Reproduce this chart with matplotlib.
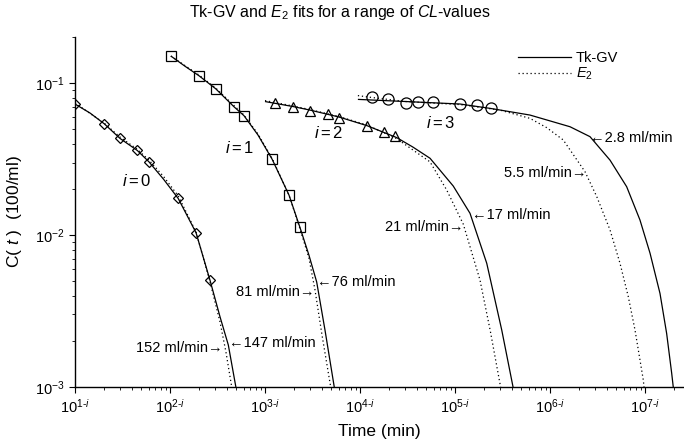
"""
Tk-GV and E2 fits for four drug-elimination curves, plotted on shifted log time axes.
Curve i is drawn at t * 10**i so the x tick labels read 10^(n-i).
"""

import numpy as np
import matplotlib
matplotlib.use("Agg")
import matplotlib.pyplot as plt
from matplotlib.lines import Line2D

plt.rcParams["font.family"] = ["Liberation Sans", "DejaVu Sans"]
plt.rcParams["mathtext.fontset"] = "custom"
plt.rcParams["mathtext.rm"] = "Liberation Sans"
plt.rcParams["mathtext.it"] = "Liberation Sans:italic"
plt.rcParams["mathtext.bf"] = "Liberation Sans:bold"

# ── measured samples (real time in min, C in 1/100 ml) ───────────────────────
T_OBS_0 = [10, 20.3, 29.8, 45.3, 60.1, 122, 188, 264]
C_OBS_0 = [0.0728, 0.054, 0.0433, 0.036, 0.0303, 0.0174, 0.01035, 0.00503]
T_OBS_1 = [10.2, 20.2, 30.3, 47.2, 60.1, 119, 179, 233]
C_OBS_1 = [0.1507, 0.1117, 0.0917, 0.0698, 0.061, 0.0315, 0.0183, 0.01125]
T_OBS_2 = [12.7, 19.9, 29.8, 46.4, 60.1, 118, 179, 233]
C_OBS_2 = [0.0741, 0.0698, 0.0658, 0.0625, 0.0586, 0.0524, 0.0474, 0.0448]
T_OBS_3 = [13.5, 19.9, 30.3, 40.5, 59.1, 113, 172, 238]
C_OBS_3 = [0.0805, 0.0781, 0.0742, 0.0754, 0.0754, 0.0728, 0.0716, 0.0682]

# ── Tk-GV fit curves ─────────────────────────────────────────────────────────
T_TK_0 = [10.0, 14.4, 20.3, 29.8, 45.3, 60.1, 85.5, 122, 188, 264, 336, 411, 504]
C_TK_0 = [0.0728, 0.0635, 0.054, 0.0432, 0.036, 0.0303, 0.0233, 0.0174, 0.01035,
          0.00503, 0.0029, 0.00189, 0.00093]
T_TK_1 = [10.2, 14.4, 20.2, 30.3, 47.2, 60.1, 84.4, 119, 179, 233, 290, 350, 428, 546]
C_TK_1 = [0.1507, 0.129, 0.1117, 0.0917, 0.0698, 0.061, 0.0455, 0.0315, 0.0183,
          0.01125, 0.00738, 0.00491, 0.00237, 0.00093]
T_TK_2 = [10.0, 19.9, 29.8, 60.1, 118, 243, 361, 546, 959, 1439, 2158, 3105, 4178]
C_TK_2 = [0.0756, 0.07, 0.0664, 0.0598, 0.0525, 0.0438, 0.0379, 0.032, 0.021,
          0.0139, 0.00652, 0.00237, 0.00093]
T_TK_3 = [9.5, 30.3, 113, 233, 615, 1624, 2636, 4285, 6412, 8851, 11300, 14380,
          16900, 19100, 20100]
C_TK_3 = [0.0781, 0.0756, 0.0728, 0.0682, 0.0616, 0.0516, 0.0444, 0.0311, 0.0208,
          0.01256, 0.00759, 0.00413, 0.00225, 0.00123, 0.00093]

# ── E2 fit curves ────────────────────────────────────────────────────────────
T_E2_0 = [10.0, 20.2, 29.8, 44.9, 60.1, 85.5, 122, 188, 264, 336, 388, 455]
C_E2_0 = [0.0739, 0.0546, 0.0441, 0.0368, 0.0311, 0.0243, 0.0181, 0.01047, 0.00491,
          0.00268, 0.0017, 0.00093]
T_E2_1 = [10.2, 20.2, 30.3, 47.2, 60.1, 84.4, 119, 179, 233, 290, 336, 398, 501]
C_E2_1 = [0.1507, 0.1129, 0.0927, 0.0711, 0.0616, 0.0462, 0.0319, 0.0183, 0.01104,
          0.00706, 0.00435, 0.0022, 0.00093]
T_E2_2 = [10.0, 19.9, 29.8, 60.1, 118, 243, 546, 817, 1222, 1832, 2355, 3085]
C_E2_2 = [0.0767, 0.0706, 0.0669, 0.0602, 0.053, 0.0431, 0.0303, 0.0198, 0.0118,
          0.00506, 0.00233, 0.00093]
T_E2_3 = [9.5, 13.5, 30.3, 113, 298, 615, 923, 1380, 2336, 3105, 4285, 5455, 6670,
          7850, 9600, 9880]
C_E2_3 = [0.0827, 0.0803, 0.0756, 0.0722, 0.0664, 0.0586, 0.0509, 0.0422, 0.0261,
          0.0179, 0.0108, 0.00652, 0.00393, 0.00237, 0.00111, 0.00093]

MARKERS = ["D", "s", "^", "o"]
MARKER_SIZES = [5.5, 7, 7, 8]

# clearance labels: (text, plotted x, C, ha)
CL_LABELS = [
    ("152 ml/min\u2192", 361, 0.00181, "right"),
    ("\u2190147 ml/min", 418, 0.00195, "left"),
    ("81 ml/min\u2192", 3281, 0.00425, "right"),
    ("\u219076 ml/min", 3524, 0.00491, "left"),
    ("21 ml/min\u2192", 122700, 0.01135, "right"),
    ("\u219017 ml/min", 149300, 0.01355, "left"),
    ("5.5 ml/min\u2192", 2.45e6, 0.0257, "right"),
    ("\u21902.8 ml/min", 2.64e6, 0.0433, "left"),
]
I_LABEL_POS = [(45, 0.0226), (546, 0.0373), (4720, 0.0467), (71300, 0.0543)]

obs = [(T_OBS_0, C_OBS_0), (T_OBS_1, C_OBS_1), (T_OBS_2, C_OBS_2), (T_OBS_3, C_OBS_3)]
tk = [(T_TK_0, C_TK_0), (T_TK_1, C_TK_1), (T_TK_2, C_TK_2), (T_TK_3, C_TK_3)]
e2 = [(T_E2_0, C_E2_0), (T_E2_1, C_E2_1), (T_E2_2, C_E2_2), (T_E2_3, C_E2_3)]

fig = plt.figure(figsize=(6.84, 4.46), dpi=100)
ax = fig.add_axes([75 / 684, 59 / 446, 608 / 684, 350 / 446])

for i in range(4):
    shift = 10.0 ** i
    t, c = tk[i]
    ax.plot(np.array(t) * shift, c, color="black", lw=0.9, solid_capstyle="butt")
    t, c = e2[i]
    ax.plot(np.array(t) * shift, c, color="black", lw=0.9, linestyle=(0, (1, 2.2)))
    t, c = obs[i]
    ax.plot(np.array(t) * shift, c, linestyle="none", marker=MARKERS[i],
            ms=MARKER_SIZES[i], mfc="none", mec="black", mew=0.9)
    x, y = I_LABEL_POS[i]
    ax.text(x, y, rf"$i={i}$", ha="center", va="center", fontsize=12)

for txt, x, y, ha in CL_LABELS:
    ax.text(x, y, txt, ha=ha, va="center", fontsize=10.5)

ax.set_xscale("log")
ax.set_yscale("log")
ax.set_xlim(10, 10 ** 7.4)
ax.set_ylim(1e-3, 0.201)

ax.set_xticks([10.0 ** k for k in range(1, 8)])
ax.set_xticklabels([rf"$10^{{{k}\text{{-}}i}}$" for k in range(1, 8)])
ax.tick_params(axis="both", which="major", labelsize=10.5, length=4, width=0.8)
ax.tick_params(axis="both", which="minor", length=2.5, width=0.6)

for side in ("top", "right"):
    ax.spines[side].set_visible(False)
for side in ("left", "bottom"):
    ax.spines[side].set_linewidth(1.0)

ax.set_xlabel("Time (min)", fontsize=12.5, labelpad=6)
ax.set_ylabel(r"C( $t$ )  (100/ml)", fontsize=12.5, labelpad=8)

fig.text(0.497, 1 - 13 / 446, r"Tk-GV and $E_2$ fits for a range of $CL$-values",
         ha="center", va="center", fontsize=11.5)

handles = [Line2D([], [], color="black", lw=0.9),
           Line2D([], [], color="black", lw=0.9, linestyle=(0, (1, 2.2)))]
ax.legend(handles, ["Tk-GV", r"$E_2$"], loc="upper left",
          bbox_to_anchor=(518 / 684, 1 - 51 / 446), bbox_transform=fig.transFigure,
          frameon=False, fontsize=10.5, handlelength=3.6, handletextpad=0.35,
          labelspacing=0.05, borderpad=0, borderaxespad=0)

fig.savefig("out.png", dpi=100)
